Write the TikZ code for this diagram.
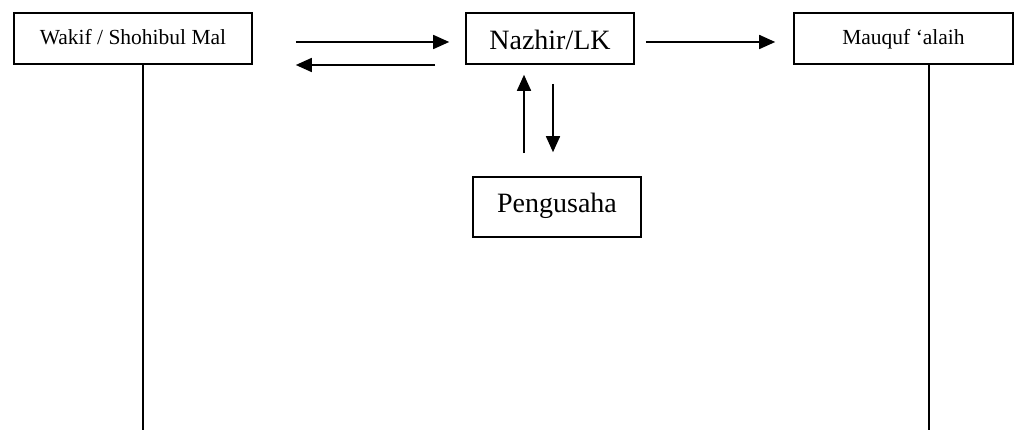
\documentclass[tikz,border=0pt]{standalone}
\usepackage{fontspec}
\setmainfont{Liberation Serif}
\usetikzlibrary{arrows.meta,calc}
\begin{document}
\begin{tikzpicture}[x=1pt,y=-1pt,
  box/.style={draw,line width=1.6pt,rectangle,inner sep=0pt},
  small/.style={font=\fontsize{21.5}{24}\selectfont,text height=17pt,text depth=4pt},
  large/.style={font=\fontsize{28}{32}\selectfont,text height=18pt,text depth=6pt},
  flow/.style={line width=1.6pt,-{Triangle[length=16pt,width=14pt]}},
  plain/.style={line width=1.6pt}]
\useasboundingbox (0,0) rectangle (1016,430);

\node[box,small,minimum width=238pt,minimum height=51pt] (wakif) at (133,38.5) {Wakif / Shohibul Mal\hspace{8pt}};
\node[box,large,text height=23pt,text depth=0pt,minimum width=168pt,minimum height=51pt] (nazhir) at (550,38.5) {Nazhir/LK};
\node[box,small,minimum width=219pt,minimum height=51pt] (mauquf) at (903.5,38.5) {Mauquf ‘alaih};
\node[box,large,minimum width=168pt,minimum height=60pt] (peng) at (557,207) {Pengusaha\hspace{4pt}};

% exchange between the waqif and the nazhir
\draw[flow] ($(wakif.east)+(43,3.5)$) -- ($(nazhir.west)+(-16,3.5)$);
\draw[flow] ($(nazhir.west)+(-30,26.5)$) -- ($(wakif.east)+(43,26.5)$);

% nazhir to beneficiary
\draw[flow] ($(nazhir.east)+(11,3.5)$) -- ($(mauquf.west)+(-18,3.5)$);

% nazhir and entrepreneur
\draw[flow] ($(peng.north)+(-33,-23)$) -- ($(nazhir.south)+(-26,10)$);
\draw[flow] ($(nazhir.south)+(3,19)$) -- ($(peng.north)+(-4,-24)$);

% long vertical lines
\coordinate (wb) at ($(wakif.south)+(10,0)$);
\coordinate (mb) at ($(mauquf.south)+(25.5,0)$);
\draw[plain] (wb) -- (wb |- 0,430);
\draw[plain] (mb) -- (mb |- 0,430);
\end{tikzpicture}
\end{document}
